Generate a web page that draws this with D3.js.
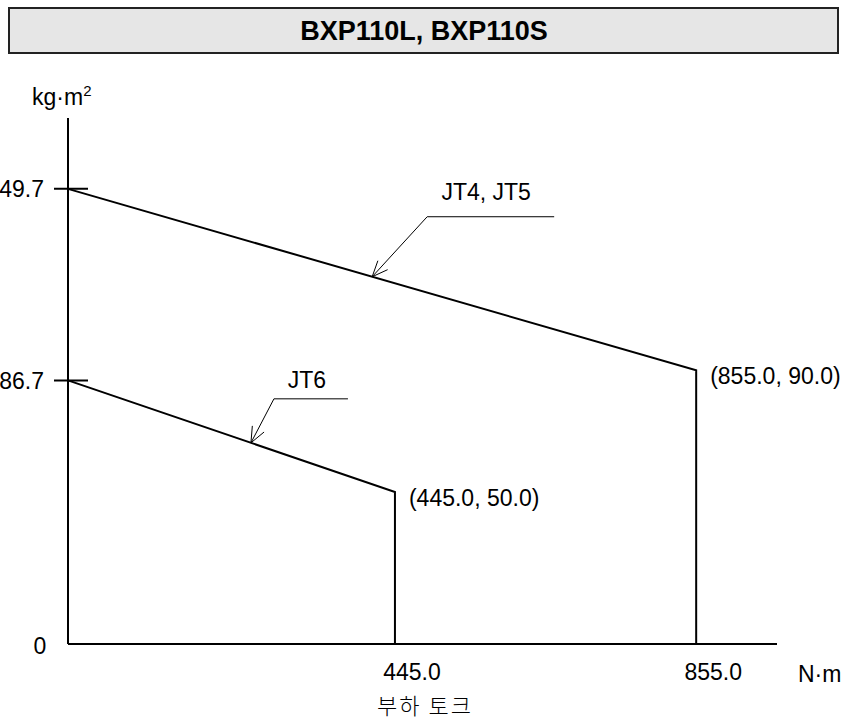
<!DOCTYPE html>
<html>
<head>
<meta charset="utf-8">
<script src="https://cdn.jsdelivr.net/npm/d3@7"></script>
<style>
  body { margin: 0; background: #fff; }
  svg { display: block; }
  text { font-family: Arial, "Liberation Sans", sans-serif; fill: #000; }
</style>
</head>
<body>
<svg id="chart" width="846" height="722"></svg>
<script>
// Allowable moment of inertia vs. load torque
const title = "BXP110L, BXP110S";
const seriesNames = ["JT4, JT5", "JT6"];
// each series: [load torque (N·m), inertia (kg·m²)]
const jt45Torque = [0, 855.0];
const jt45Inertia = [149.7, 90.0];
const jt6Torque = [0, 445.0];
const jt6Inertia = [86.7, 50.0];
const yTickValues = [0, 86.7, 149.7];
const yTickLabels = ["0", "86.7", "149.7"];
const xTickValues = [445.0, 855.0];
const xTickLabels = ["445.0", "855.0"];
// torque where each leader arrow meets its line
const arrowTorque = [414, 249];
const xUnit = "N·m";
const yUnit = "kg·m";
const xTitle = "부하 토크";

const svg = d3.select("#chart");
const FS = 23;

const x = d3.scaleLinear().domain([0, 965]).range([68, 777]);
const y = d3.scaleLinear().domain([0, 173]).range([644, 118]);

// title box
svg.append("rect").attr("x", 9).attr("y", 8).attr("width", 829).attr("height", 45)
  .attr("fill", "#e6e6e6").attr("stroke", "#222").attr("stroke-width", 2);
svg.append("text").attr("x", 424).attr("y", 40).attr("text-anchor", "middle")
  .attr("font-weight", "bold").attr("font-size", 27).text(title);

// axes
svg.append("line").attr("x1", x(0)).attr("x2", x(0)).attr("y1", y.range()[1]).attr("y2", y(0))
  .attr("stroke", "#000").attr("stroke-width", 2);
svg.append("line").attr("x1", x(0)).attr("x2", x.range()[1]).attr("y1", y(0)).attr("y2", y(0))
  .attr("stroke", "#000").attr("stroke-width", 2);

// y ticks crossing the axis
yTickValues.forEach((v, i) => {
  if (v !== 0) {
    svg.append("line").attr("x1", x(0) - 14).attr("x2", x(0) + 20)
      .attr("y1", y(v)).attr("y2", y(v)).attr("stroke", "#000").attr("stroke-width", 2);
    svg.append("text").attr("x", 44).attr("y", y(v)).attr("dy", "0.36em")
      .attr("text-anchor", "end").attr("font-size", FS).text(yTickLabels[i]);
  } else {
    svg.append("text").attr("x", 40).attr("y", y(v)).attr("dy", "0.45em")
      .attr("text-anchor", "middle").attr("font-size", FS).text(yTickLabels[i]);
  }
});

// x tick labels
xTickValues.forEach((v, i) => {
  svg.append("text").attr("x", x(v) + 17).attr("y", y(0) + 36).attr("text-anchor", "middle")
    .attr("font-size", FS).text(xTickLabels[i]);
});

// unit labels
const yu = svg.append("text").attr("x", 32).attr("y", 105).attr("font-size", FS);
yu.append("tspan").text(yUnit);
yu.append("tspan").attr("dy", -9).attr("font-size", 15).text("2");
svg.append("text").attr("x", 798).attr("y", y(0) + 38).attr("font-size", FS).text(xUnit);
svg.append("text").attr("x", 425).attr("y", 714).attr("text-anchor", "middle")
  .attr("font-size", 22).attr("letter-spacing", 2)
  .style("font-family", "'Noto Sans CJK KR', sans-serif").style("font-weight", 300)
  .text(xTitle);

// curves: sloped segment then vertical drop to zero
const line = d3.line().x(d => x(d[0])).y(d => y(d[1]));
const series = [
  { t: jt45Torque, v: jt45Inertia },
  { t: jt6Torque, v: jt6Inertia }
];
series.forEach(s => {
  const pts = [[s.t[0], s.v[0]], [s.t[1], s.v[1]], [s.t[1], 0]];
  svg.append("path").attr("d", line(pts)).attr("fill", "none")
    .attr("stroke", "#000").attr("stroke-width", 2);
  svg.append("text").attr("x", x(s.t[1]) + 14).attr("y", y(s.v[1]) + 14)
    .attr("font-size", FS).text(`(${s.t[1].toFixed(1)}, ${s.v[1].toFixed(1)})`);
});

// leader lines with open arrowheads
const leaders = [
  { dx: 55, dy: -60, len: 127, lx: 59, ly: -17 },
  { dx: 23, dy: -44, len: 74, lx: 33, ly: -11 }
];
series.forEach((s, i) => {
  const t = arrowTorque[i];
  const v = s.v[0] + (s.v[1] - s.v[0]) * (t - s.t[0]) / (s.t[1] - s.t[0]);
  const tx = x(t), ty = y(v);
  const L = leaders[i];
  const ex = tx + L.dx, ey = ty + L.dy;
  svg.append("path").attr("d", `M${tx},${ty}L${ex},${ey}H${ex + L.len}`)
    .attr("fill", "none").attr("stroke", "#000").attr("stroke-width", 1);
  const ang = Math.atan2(ey - ty, ex - tx);
  [0.4, -0.4].forEach(a => {
    svg.append("line").attr("x1", tx).attr("y1", ty)
      .attr("x2", tx + 17 * Math.cos(ang + a)).attr("y2", ty + 17 * Math.sin(ang + a))
      .attr("stroke", "#000").attr("stroke-width", 1);
  });
  svg.append("text").attr("x", ex + L.lx).attr("y", ey + L.ly).attr("text-anchor", "middle")
    .attr("font-size", FS).text(seriesNames[i]);
});
</script>
</body>
</html>
